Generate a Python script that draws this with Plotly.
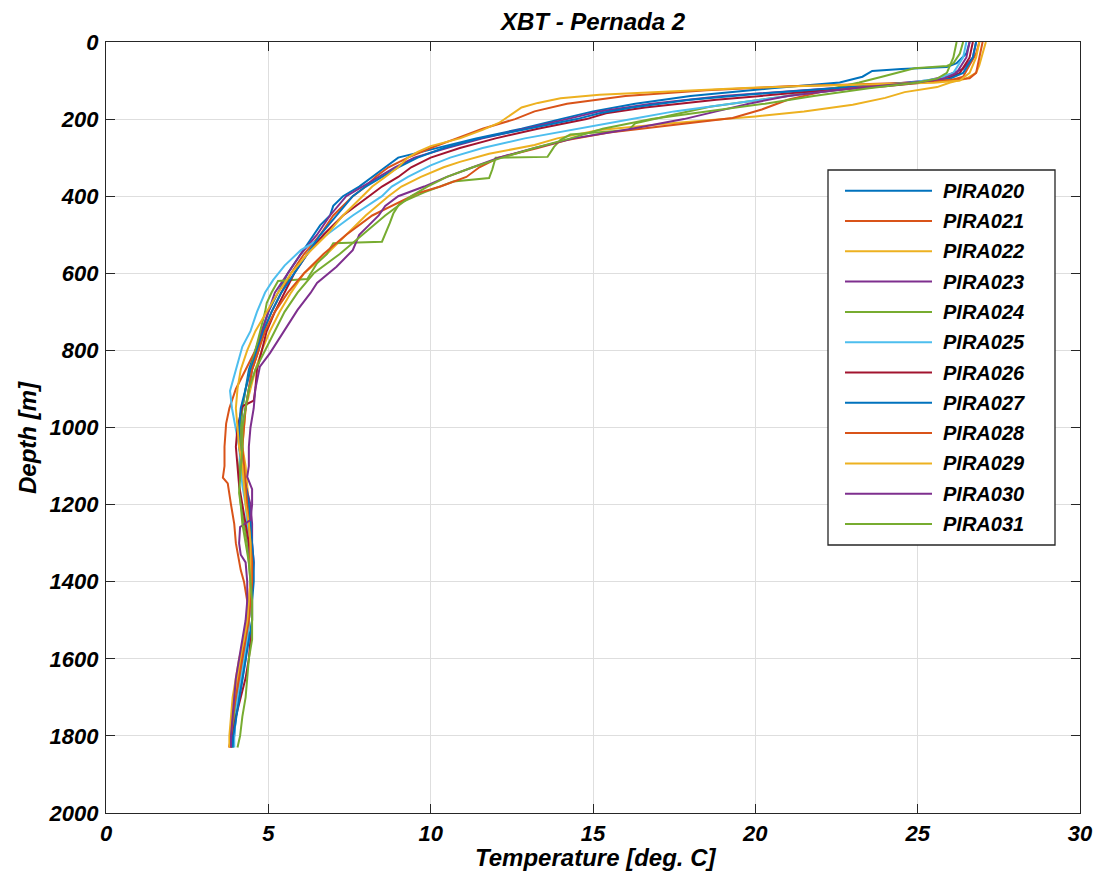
import plotly.graph_objects as go

names = ["PIRA020", "PIRA021", "PIRA022", "PIRA023", "PIRA024", "PIRA025",
         "PIRA026", "PIRA027", "PIRA028", "PIRA029", "PIRA030", "PIRA031"]
colors = ["#0072BD", "#D95319", "#EDB120", "#7E2F8E", "#77AC30", "#4DBEEE",
          "#A2142F", "#0072BD", "#D95319", "#EDB120", "#7E2F8E", "#77AC30"]

d020 = [0, 30, 55, 65, 70, 75, 90, 105, 120, 140, 160, 180, 200, 225, 250, 275, 290, 300, 325, 350, 375, 400, 425, 450, 475, 500, 550, 600, 650, 700, 750, 800, 850, 900, 950, 1000, 1050, 1100, 1150, 1200, 1250, 1300, 1350, 1400, 1450, 1500, 1550, 1600, 1650, 1700, 1750, 1800, 1830]
t020 = [26.6, 26.5, 26.2, 25.9, 24.5, 23.6, 23.3, 22.6, 20.5, 18.0, 16.3, 15.0, 14.0, 12.8, 11.4, 10.2, 9.4, 9.0, 8.6, 8.2, 7.8, 7.3, 7.0, 6.9, 6.6, 6.4, 6.0, 5.6, 5.3, 5.0, 4.8, 4.6, 4.4, 4.3, 4.2, 4.15, 4.2, 4.25, 4.3, 4.35, 4.4, 4.45, 4.5, 4.5, 4.45, 4.4, 4.35, 4.3, 4.2, 4.1, 4.0, 3.95, 3.9]

d021 = [0, 30, 60, 90, 100, 105, 110, 115, 125, 140, 160, 180, 200, 225, 250, 275, 300, 325, 350, 375, 400, 450, 500, 550, 600, 650, 700, 750, 800, 850, 900, 950, 990, 1050, 1100, 1130, 1145, 1200, 1250, 1300, 1350, 1370, 1400, 1450, 1500, 1550, 1600, 1650, 1700, 1750, 1800, 1830]
t021 = [26.9, 26.8, 26.6, 26.4, 26.0, 25.0, 23.0, 21.0, 18.5, 16.0, 14.2, 13.2, 12.6, 11.6, 10.8, 10.0, 9.3, 8.7, 8.3, 8.0, 7.6, 7.0, 6.6, 6.1, 5.7, 5.4, 5.1, 4.85, 4.6, 4.3, 4.0, 3.8, 3.7, 3.65, 3.65, 3.6, 3.75, 3.85, 3.95, 4.0, 4.1, 4.15, 4.25, 4.35, 4.35, 4.3, 4.2, 4.1, 4.0, 3.95, 3.85, 3.8]

d022 = [0, 30, 60, 80, 95, 105, 117, 130, 145, 163, 180, 193, 210, 228, 250, 267, 290, 311, 325, 350, 375, 400, 450, 500, 550, 600, 650, 700, 750, 800, 850, 900, 950, 1000, 1050, 1100, 1150, 1200, 1250, 1300, 1350, 1400, 1450, 1500, 1550, 1600, 1650, 1700, 1750, 1800, 1830]
t022 = [27.1, 27.0, 26.9, 26.8, 26.5, 26.0, 25.6, 24.6, 24.0, 23.0, 21.5, 20.0, 17.5, 15.2, 13.9, 13.2, 11.8, 10.9, 10.4, 9.7, 9.1, 8.7, 8.0, 7.4, 6.8, 6.1, 5.7, 5.35, 5.05, 4.8, 4.6, 4.45, 4.3, 4.25, 4.2, 4.3, 4.35, 4.4, 4.45, 4.45, 4.5, 4.45, 4.4, 4.35, 4.25, 4.15, 4.05, 3.95, 3.9, 3.85, 3.85]

d023 = [0, 40, 70, 90, 100, 110, 125, 140, 160, 180, 200, 225, 250, 275, 300, 325, 350, 375, 400, 450, 500, 550, 600, 650, 700, 750, 800, 850, 900, 950, 1000, 1050, 1100, 1150, 1200, 1250, 1300, 1350, 1400, 1450, 1500, 1550, 1600, 1650, 1700, 1750, 1800, 1830]
t023 = [26.8, 26.7, 26.4, 25.8, 25.3, 24.0, 21.5, 19.0, 16.8, 15.2, 14.2, 12.9, 11.6, 10.5, 9.5, 8.9, 8.4, 7.9, 7.4, 6.9, 6.5, 6.0, 5.6, 5.2, 5.0, 4.8, 4.7, 4.5, 4.4, 4.3, 4.2, 4.15, 4.2, 4.3, 4.45, 4.5, 4.5, 4.55, 4.5, 4.45, 4.4, 4.35, 4.25, 4.15, 4.05, 3.95, 3.9, 3.85]

d024 = [0, 30, 55, 62, 68, 80, 90, 105, 120, 140, 158, 168, 190, 211, 228, 240, 254, 272, 298, 300, 330, 353, 362, 390, 418, 445, 470, 518, 522, 550, 574, 600, 615, 620, 650, 677, 700, 750, 800, 850, 900, 950, 1000, 1050, 1100, 1150, 1200, 1250, 1300, 1350, 1400, 1450, 1500, 1550, 1600, 1650, 1700, 1750, 1800, 1830]
t024 = [26.4, 26.3, 26.1, 25.9, 24.9, 24.4, 23.9, 23.2, 22.4, 21.0, 19.5, 18.6, 17.4, 16.3, 16.1, 14.3, 14.0, 13.8, 13.6, 12.0, 11.9, 11.8, 10.7, 9.8, 9.05, 8.85, 8.74, 8.5, 7.0, 6.8, 6.5, 6.3, 6.2, 5.3, 5.1, 4.95, 4.9, 4.75, 4.6, 4.45, 4.3, 4.2, 4.15, 4.15, 4.1, 4.1, 4.15, 4.25, 4.35, 4.4, 4.45, 4.45, 4.4, 4.35, 4.25, 4.15, 4.05, 3.95, 3.9, 3.9]

d025 = [0, 40, 80, 95, 105, 120, 140, 163, 180, 200, 225, 250, 275, 300, 320, 350, 375, 400, 450, 500, 540, 580, 617, 650, 700, 750, 790, 850, 905, 950, 985, 1050, 1100, 1150, 1200, 1250, 1300, 1350, 1400, 1450, 1500, 1550, 1600, 1650, 1700, 1750, 1800, 1830]
t025 = [26.5, 26.4, 26.1, 25.6, 24.8, 23.0, 21.0, 19.0, 17.5, 16.2, 14.5, 12.9, 11.6, 10.6, 10.0, 9.3, 8.8, 8.5, 7.6, 6.8, 6.0, 5.5, 5.15, 4.9, 4.65, 4.45, 4.2, 4.0, 3.82, 3.88, 3.95, 4.1, 4.15, 4.2, 4.3, 4.35, 4.4, 4.45, 4.45, 4.45, 4.4, 4.35, 4.25, 4.15, 4.05, 4.0, 3.95, 3.95]

d026 = [0, 40, 80, 95, 105, 115, 130, 150, 170, 185, 200, 225, 250, 275, 300, 325, 350, 375, 400, 450, 500, 550, 600, 650, 700, 750, 800, 850, 900, 930, 945, 1000, 1050, 1100, 1150, 1200, 1250, 1300, 1350, 1400, 1450, 1500, 1550, 1600, 1650, 1700, 1750, 1800, 1830]
t026 = [26.7, 26.6, 26.3, 25.9, 25.2, 24.0, 21.5, 18.8, 16.6, 15.4, 14.8, 13.3, 12.0, 10.9, 10.0, 9.4, 9.0, 8.5, 8.1, 7.3, 6.7, 6.2, 5.8, 5.5, 5.2, 4.95, 4.8, 4.65, 4.6, 4.55, 4.2, 4.05, 4.0, 4.05, 4.1, 4.2, 4.3, 4.4, 4.45, 4.5, 4.5, 4.5, 4.45, 4.4, 4.3, 4.15, 4.0, 3.9, 3.85]

d027 = [0, 40, 80, 95, 103, 110, 120, 135, 150, 170, 185, 200, 225, 250, 275, 300, 325, 350, 375, 400, 450, 500, 550, 600, 650, 700, 750, 800, 850, 900, 950, 1000, 1050, 1100, 1150, 1200, 1250, 1300, 1350, 1400, 1450, 1500, 1550, 1600, 1650, 1700, 1750, 1800, 1830]
t027 = [26.8, 26.7, 26.4, 26.0, 25.2, 24.0, 22.5, 20.0, 18.0, 16.2, 15.2, 14.5, 13.0, 11.5, 10.4, 9.6, 9.0, 8.5, 8.0, 7.6, 7.1, 6.6, 6.2, 5.8, 5.4, 5.1, 4.85, 4.65, 4.45, 4.3, 4.15, 4.1, 4.1, 4.2, 4.3, 4.4, 4.45, 4.5, 4.55, 4.55, 4.5, 4.5, 4.4, 4.3, 4.2, 4.1, 4.0, 3.92, 3.9]

d028 = [0, 40, 80, 94, 100, 105, 115, 130, 150, 175, 197, 215, 235, 254, 275, 300, 325, 350, 375, 392, 415, 450, 500, 550, 600, 650, 700, 750, 800, 850, 900, 950, 1000, 1050, 1100, 1150, 1200, 1250, 1300, 1350, 1400, 1450, 1500, 1550, 1600, 1650, 1700, 1750, 1800, 1830]
t028 = [27.0, 26.9, 26.8, 26.6, 25.8, 25.0, 23.5, 22.0, 21.0, 20.2, 19.3, 17.5, 15.5, 14.2, 13.3, 12.1, 11.5, 11.1, 10.3, 9.6, 9.05, 8.2, 7.4, 6.7, 6.1, 5.6, 5.2, 4.9, 4.7, 4.5, 4.4, 4.3, 4.25, 4.2, 4.25, 4.3, 4.35, 4.4, 4.45, 4.5, 4.5, 4.45, 4.4, 4.3, 4.2, 4.1, 4.0, 3.9, 3.85, 3.8]

d029 = [0, 40, 80, 100, 106, 110, 114, 120, 130, 137, 146, 158, 170, 194, 210, 228, 250, 270, 285, 300, 325, 350, 375, 400, 450, 500, 550, 600, 650, 700, 750, 800, 850, 900, 950, 1000, 1050, 1100, 1150, 1200, 1250, 1300, 1350, 1400, 1450, 1500, 1550, 1600, 1650, 1700, 1750, 1800, 1830]
t029 = [26.9, 26.8, 26.6, 26.3, 25.5, 23.5, 21.5, 19.5, 17.0, 15.2, 14.0, 13.3, 12.8, 12.4, 12.1, 11.6, 10.9, 10.0, 9.6, 9.3, 9.0, 8.6, 8.2, 7.9, 7.3, 6.8, 6.2, 5.7, 5.3, 4.95, 4.6, 4.35, 4.15, 4.05, 4.0, 4.05, 4.1, 4.2, 4.25, 4.3, 4.4, 4.45, 4.45, 4.45, 4.4, 4.35, 4.25, 4.1, 4.0, 3.9, 3.85, 3.8, 3.8]

d030 = [0, 40, 80, 95, 105, 120, 140, 160, 180, 200, 225, 250, 275, 300, 325, 350, 375, 400, 425, 450, 475, 500, 540, 583, 625, 651, 695, 765, 807, 842, 900, 950, 1000, 1050, 1100, 1128, 1160, 1200, 1240, 1258, 1300, 1330, 1350, 1400, 1450, 1500, 1550, 1600, 1650, 1700, 1750, 1800, 1830]
t030 = [26.6, 26.5, 26.2, 25.8, 25.0, 23.0, 21.0, 19.8, 18.8, 17.8, 16.2, 14.4, 13.2, 12.1, 11.3, 10.5, 9.8, 9.0, 8.6, 8.4, 8.1, 7.8, 7.6, 7.1, 6.5, 6.3, 5.9, 5.36, 5.05, 4.74, 4.6, 4.55, 4.45, 4.4, 4.4, 4.35, 4.5, 4.5, 4.45, 4.13, 4.1, 4.15, 4.3, 4.35, 4.35, 4.3, 4.2, 4.1, 4.0, 3.95, 3.9, 3.85, 3.85]

d031 = [0, 40, 80, 95, 105, 120, 140, 160, 180, 200, 225, 250, 275, 300, 325, 350, 375, 400, 450, 500, 550, 600, 650, 700, 750, 800, 850, 900, 950, 1000, 1050, 1100, 1170, 1200, 1250, 1300, 1350, 1400, 1450, 1500, 1550, 1600, 1650, 1700, 1750, 1800, 1830]
t031 = [26.2, 26.1, 25.9, 25.6, 25.0, 23.5, 21.8, 20.3, 18.5, 16.8, 15.3, 14.3, 13.2, 12.2, 11.3, 10.5, 9.9, 9.4, 8.6, 7.9, 7.2, 6.4, 5.9, 5.5, 5.2, 4.9, 4.6, 4.4, 4.3, 4.2, 4.2, 4.15, 4.1, 4.15, 4.2, 4.3, 4.4, 4.45, 4.5, 4.5, 4.5, 4.4, 4.35, 4.3, 4.2, 4.13, 4.05]

depths = [d020, d021, d022, d023, d024, d025, d026, d027, d028, d029, d030, d031]
temps = [t020, t021, t022, t023, t024, t025, t026, t027, t028, t029, t030, t031]

x_ticks = [0, 5, 10, 15, 20, 25, 30]
y_ticks = [0, 200, 400, 600, 800, 1000, 1200, 1400, 1600, 1800, 2000]

FONT = "Liberation Sans, Arial, Helvetica, sans-serif"
OFF = 8  # page body margin offset
W, H = 1102 - OFF, 872 - OFF
# target plot area in window pixels: x 106..1080, y 42..813
ML = 106 - OFF
MT = 42 - OFF
MR = (W + OFF) - 1080
MB = (H + OFF) - 813
PW, PH = W - ML - MR, H - MT - MB

fig = go.Figure()
for n, c, d, t in zip(names, colors, depths, temps):
    fig.add_trace(go.Scatter(x=t, y=d, mode="lines", name=n,
                             line=dict(color=c, width=2), showlegend=False))

axis_common = dict(showline=True, linecolor="#262626", linewidth=1.3, mirror="ticks",
                   ticks="inside", ticklen=9, tickcolor="#262626", tickwidth=1,
                   showgrid=True, gridcolor="#dedede", gridwidth=1, zeroline=False,
                   automargin=False, tickfont=dict(size=22, color="black"))

fig.update_xaxes(range=[0, 30], tickvals=x_ticks, ticklabelstandoff=0, **axis_common)
fig.update_yaxes(range=[2000, 0], tickvals=y_ticks, ticklabelstandoff=2, **axis_common)

def px2x(px):
    return (px - OFF - ML) / PW

def py2y(py):
    return 1 - (py - OFF - MT) / PH

shapes = [dict(type="rect", xref="paper", yref="paper",
               x0=px2x(828), x1=px2x(1055), y0=py2y(545), y1=py2y(170),
               line=dict(color="#262626", width=1.3), fillcolor="white", layer="above")]
annotations = [
    dict(xref="paper", yref="paper", x=px2x(595), y=py2y(857), text="Temperature [deg. C]",
         showarrow=False, xanchor="center", yanchor="middle", font=dict(size=24, color="black")),
    dict(xref="paper", yref="paper", x=px2x(28), y=py2y(438), text="Depth [m]", textangle=-90,
         showarrow=False, xanchor="center", yanchor="middle", font=dict(size=24, color="black")),
]
for i, (n, c) in enumerate(zip(names, colors)):
    yy = py2y(190.7 + 30.3 * i)
    shapes.append(dict(type="line", xref="paper", yref="paper",
                       x0=px2x(845), x1=px2x(932), y0=yy, y1=yy,
                       line=dict(color=c, width=2), layer="above"))
    annotations.append(dict(xref="paper", yref="paper", x=px2x(941), y=yy,
                            text=n, showarrow=False, xanchor="left", yanchor="middle",
                            font=dict(size=20, color="black")))

fig.update_layout(
    width=W, height=H,
    margin=dict(l=ML, r=MR, t=MT, b=MB, autoexpand=False),
    paper_bgcolor="white", plot_bgcolor="white",
    font=dict(family=FONT, weight="bold", style="italic", color="black"),
    title=dict(text="XBT - Pernada 2", x=(593 - OFF) / W, xanchor="center",
               y=1 - (22 - OFF) / H, yanchor="middle", font=dict(size=24, color="black")),
    shapes=shapes, annotations=annotations,
)

fig.write_html("out.html")
